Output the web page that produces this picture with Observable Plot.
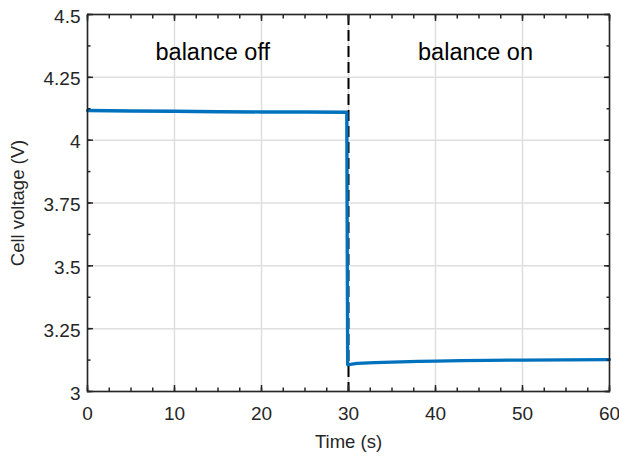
<!DOCTYPE html>
<html>
<head>
<meta charset="utf-8">
<script src="https://cdn.jsdelivr.net/npm/d3@7"></script>
<script src="https://cdn.jsdelivr.net/npm/@observablehq/plot@0.6"></script>
<style>
  html, body { margin: 0; padding: 0; background: #fff; }
  #chart svg { font-family: "Liberation Sans", Arial, Helvetica, sans-serif; }
</style>
</head>
<body>
<div id="chart"></div>
<script>
// Series: time (s) and cell voltage (V)
const timeS = [0, 5, 10, 15, 20, 25, 29.8, 29.9, 30.2, 31, 33, 35, 38, 40, 43, 46, 50, 55, 60];
const voltV = [4.118, 4.116, 4.115, 4.113, 4.112, 4.112, 4.111, 3.107, 3.108, 3.112, 3.115, 3.117, 3.120, 3.121, 3.123, 3.124, 3.125, 3.126, 3.127];

// Event marker and annotations
const eventTime = [30];
const annX = [14.4, 44.6];
const annY = [4.35, 4.35];
const annText = ["balance off", "balance on"];

// Axis ticks
const xTicks = [0, 10, 20, 30, 40, 50, 60];
const xMinor = d3.range(0, 60.001, 2.5);
const yTicks = [3, 3.25, 3.5, 3.75, 4, 4.25, 4.5];
const yMinor = d3.range(3, 4.5001, 0.125);
const xLabel = "Time (s)";
const yLabel = "Cell voltage (V)";

const data = timeS.map((t, i) => ({t, v: voltV[i]}));
const axisColor = "#262626";

const chart = Plot.plot({
  width: 619,
  height: 458,
  marginLeft: 87,
  marginRight: 10,
  marginTop: 14,
  marginBottom: 67,
  style: {fontSize: "19px", fontFamily: "Liberation Sans, Arial, sans-serif", color: axisColor, background: "#fff"},
  x: {domain: [0, 60]},
  y: {domain: [3, 4.5]},
  marks: [
    Plot.gridX(xTicks, {stroke: "#dfdfdf", strokeOpacity: 1, strokeWidth: 1.5}),
    Plot.gridY(yTicks, {stroke: "#dfdfdf", strokeOpacity: 1, strokeWidth: 1.5}),
    Plot.ruleX(eventTime, {stroke: "#000", strokeWidth: 2, strokeDasharray: "11,5"}),
    Plot.line(data, {x: "t", y: "v", stroke: "#0072BD", strokeWidth: 3.3}),
    Plot.text(annText, {x: (d, i) => annX[i], y: (d, i) => annY[i], text: d => d, fontSize: 23.5, fill: "#000"}),
    Plot.frame({stroke: axisColor, strokeWidth: 1.6}),
    // minor ticks (inward)
    Plot.axisX(xMinor, {anchor: "bottom", tickSize: -3.5, tickFormat: () => "", label: null, strokeWidth: 1.5}),
    Plot.axisX(xMinor, {anchor: "top", tickSize: -3.5, tickFormat: () => "", label: null, strokeWidth: 1.5}),
    Plot.axisY(yMinor, {anchor: "left", tickSize: -3.5, tickFormat: () => "", label: null, strokeWidth: 1.5}),
    Plot.axisY(yMinor, {anchor: "right", tickSize: -3.5, tickFormat: () => "", label: null, strokeWidth: 1.5}),
    // major ticks (inward)
    Plot.axisX(xTicks, {anchor: "bottom", tickSize: -6, tickFormat: () => "", label: null, strokeWidth: 1.5}),
    Plot.axisX(xTicks, {anchor: "top", tickSize: -6, tickFormat: () => "", label: null, strokeWidth: 1.5}),
    Plot.axisY(yTicks, {anchor: "left", tickSize: -6, tickFormat: () => "", label: null, strokeWidth: 1.5}),
    Plot.axisY(yTicks, {anchor: "right", tickSize: -6, tickFormat: () => "", label: null, strokeWidth: 1.5}),
    // tick labels
    Plot.axisX(xTicks, {anchor: "bottom", tickSize: 0, tickPadding: 15, tickFormat: d => String(d), label: null, fontSize: 19}),
    Plot.axisY(yTicks, {anchor: "left", tickSize: 0, tickPadding: 7, dy: 2, tickFormat: d => String(d), label: null, fontSize: 19}),
    // axis titles
    Plot.text([xLabel], {frameAnchor: "bottom", dy: 56, text: d => d, fontSize: 18.5, fill: axisColor}),
    Plot.text([yLabel], {frameAnchor: "left", dx: -69, rotate: -90, textAnchor: "middle", text: d => d, fontSize: 18.5, fill: axisColor})
  ]
});
document.getElementById("chart").appendChild(chart);
</script>
</body>
</html>
